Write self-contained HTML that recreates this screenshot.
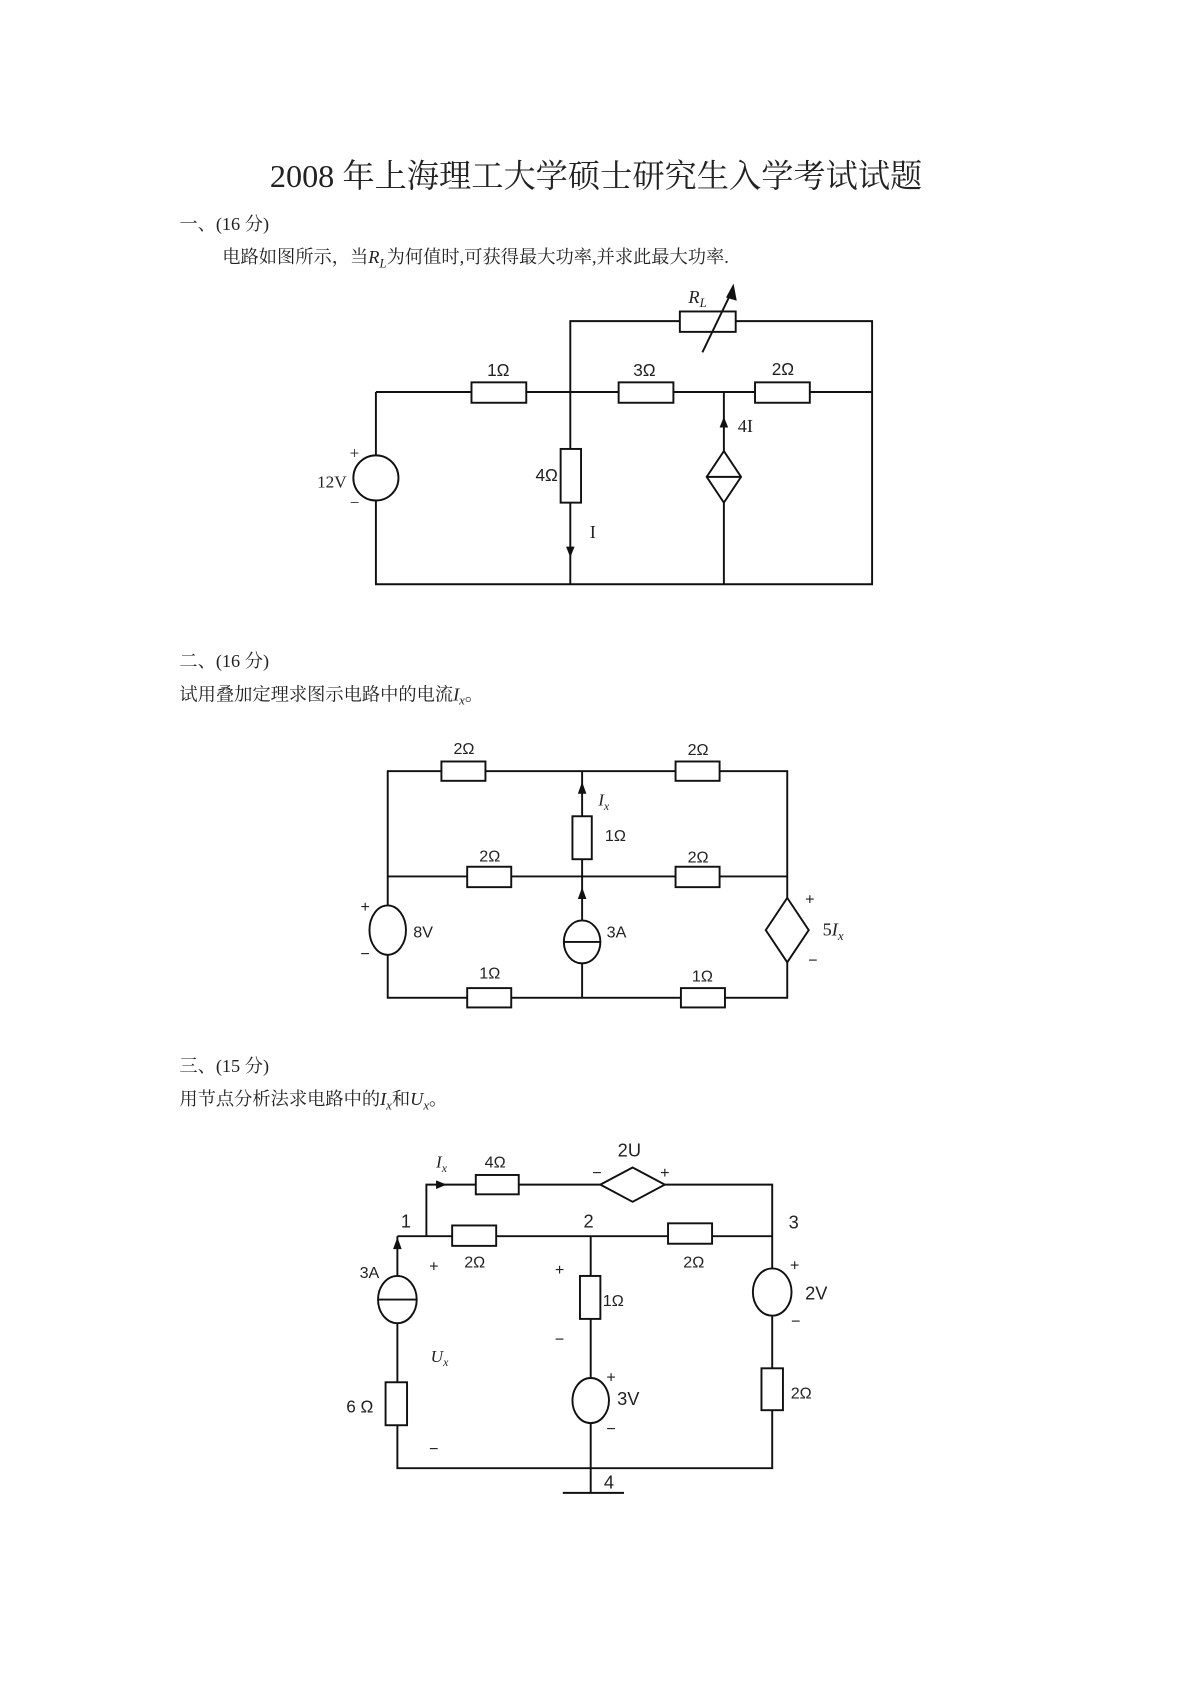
<!DOCTYPE html>
<html><head><meta charset="utf-8"><style>
html,body{margin:0;padding:0;background:#fff;}
svg{display:block;}
.t{font-family:"Liberation Serif","Noto Serif CJK SC",serif;fill:#222;}
.s{font-family:"Liberation Sans","Noto Sans CJK SC",sans-serif;fill:#222;}
.i{font-family:"Liberation Serif",serif;font-style:italic;fill:#222;}
</style></head><body>
<svg width="1190" height="1683" viewBox="0 0 1108 1567" preserveAspectRatio="none" xmlns="http://www.w3.org/2000/svg">
<g stroke="#111" stroke-width="1.8" fill="none">
<!-- Circuit 1 -->
<polyline points="350,365 350,544 812,544 812,299 531,299 531,544"/>
<line x1="350" y1="365" x2="812" y2="365"/>
<line x1="674" y1="365" x2="674" y2="544"/>
<rect x="439" y="356" width="51" height="19" fill="#fff"/>
<rect x="576" y="356" width="51" height="19" fill="#fff"/>
<rect x="703" y="356" width="51" height="19" fill="#fff"/>
<rect x="633" y="290" width="52" height="19" fill="#fff"/>
<line x1="654" y1="328" x2="683" y2="268"/>
<rect x="522" y="418" width="19" height="50" fill="#fff"/>
<ellipse cx="350" cy="445" rx="21" ry="21" fill="#fff"/>
<polygon points="674,420 690,444 674,468 658,444" fill="#fff"/>
<line x1="658" y1="444" x2="690" y2="444"/>
<!-- Circuit 2 -->
<rect x="361" y="718" width="372" height="211"/>
<line x1="361" y1="816" x2="733" y2="816"/>
<line x1="542" y1="718" x2="542" y2="929"/>
<rect x="411" y="709" width="41" height="18" fill="#fff"/>
<rect x="629" y="709" width="41" height="18" fill="#fff"/>
<rect x="533" y="760" width="18" height="40" fill="#fff"/>
<rect x="435" y="807" width="41" height="19" fill="#fff"/>
<rect x="629" y="807" width="41" height="19" fill="#fff"/>
<rect x="435" y="920" width="41" height="18" fill="#fff"/>
<rect x="634" y="920" width="41" height="18" fill="#fff"/>
<ellipse cx="361" cy="866" rx="17" ry="23" fill="#fff"/>
<ellipse cx="542" cy="877" rx="17" ry="20" fill="#fff"/>
<line x1="525" y1="877" x2="559" y2="877"/>
<polygon points="733,836 753,866 733,896 713,866" fill="#fff"/>
<!-- Circuit 3 -->
<polyline points="370,1151 719,1151"/>
<polyline points="397,1151 397,1103 719,1103 719,1367 370,1367 370,1151"/>
<line x1="550" y1="1151" x2="550" y2="1390"/>
<line x1="524" y1="1390" x2="581" y2="1390"/>
<rect x="443" y="1094" width="40" height="18" fill="#fff"/>
<polygon points="559,1103 589,1087 619,1103 589,1119" fill="#fff"/>
<rect x="421" y="1141" width="41" height="19" fill="#fff"/>
<rect x="622" y="1139" width="41" height="19" fill="#fff"/>
<rect x="540" y="1188" width="19" height="40" fill="#fff"/>
<ellipse cx="550" cy="1304" rx="17" ry="21" fill="#fff"/>
<ellipse cx="370" cy="1210" rx="18" ry="22" fill="#fff"/>
<line x1="352" y1="1210" x2="388" y2="1210"/>
<rect x="359" y="1287" width="20" height="40" fill="#fff"/>
<ellipse cx="719" cy="1203" rx="18" ry="22" fill="#fff"/>
<rect x="709" y="1274" width="20" height="39" fill="#fff"/>
</g>
<g fill="#111">
<polygon points="683,264 676,277 686,280"/>
<polygon points="674,388 670,398 678,398"/>
<polygon points="531,519 527,509 535,509"/>
<polygon points="542,728 538,739 546,739"/>
<polygon points="542,826 538,837 546,837"/>
<polygon points="416,1103 406,1099 406,1107"/>
<polygon points="370,1152 366,1163 374,1163"/>
</g>
<text class="t" x="555" y="174" font-size="30" text-anchor="middle">2008 年上海理工大学硕士研究生入学考试试题</text>
<text class="t" x="167" y="214" font-size="17">一、(16 分)</text>
<text class="t" x="207" y="245" font-size="17">电路如图所示，当<tspan class="i">R</tspan><tspan class="i" font-size="12" dy="4">L</tspan><tspan dy="-4">为何值时,可获得最大功率,并求此最大功率.</tspan></text>
<text class="i" x="641" y="282" font-size="17">R<tspan font-size="12" dy="4">L</tspan></text>
<g class="s" font-size="16" text-anchor="middle">
<text x="464" y="350">1Ω</text><text x="600" y="350">3Ω</text><text x="729" y="349">2Ω</text>
<text x="509" y="448">4Ω</text>
</g>
<text class="t" x="330" y="427" font-size="16" text-anchor="middle">+</text>
<text class="t" x="330" y="473" font-size="16" text-anchor="middle">−</text>
<text class="t" x="309" y="454" font-size="16" text-anchor="middle">12V</text>
<text class="t" x="694" y="402" font-size="17" text-anchor="middle">4I</text>
<text class="t" x="552" y="501" font-size="17" text-anchor="middle">I</text>

<text class="t" x="167" y="621" font-size="17">二、(16 分)</text>
<text class="t" x="167" y="652" font-size="17">试用叠加定理求图示电路中的电流<tspan class="i">I</tspan><tspan class="i" font-size="12" dy="4">x</tspan><tspan dy="-4">。</tspan></text>
<g class="s" font-size="15" text-anchor="middle">
<text x="432" y="702">2Ω</text><text x="650" y="703">2Ω</text>
<text x="573" y="783">1Ω</text>
<text x="456" y="802">2Ω</text><text x="650" y="803">2Ω</text>
<text x="456" y="911">1Ω</text><text x="654" y="914">1Ω</text>
<text x="394" y="873">8V</text><text x="574" y="873">3A</text>
<text x="340" y="849">+</text><text x="340" y="893">−</text>
<text x="754" y="842">+</text><text x="757" y="899">−</text>
</g>
<text class="i" x="557" y="750" font-size="16">I<tspan font-size="11" dy="4">x</tspan></text>
<text class="t" x="766" y="871" font-size="17">5<tspan class="i">I</tspan><tspan class="i" font-size="12" dy="4">x</tspan></text>

<text class="t" x="167" y="998" font-size="17">三、(15  分)</text>
<text class="t" x="167" y="1029" font-size="17">用节点分析法求电路中的<tspan class="i">I</tspan><tspan class="i" font-size="12" dy="4">x</tspan><tspan dy="-4">和</tspan><tspan class="i">U</tspan><tspan class="i" font-size="12" dy="4">x</tspan><tspan dy="-4">。</tspan></text>
<g class="s" font-size="15" text-anchor="middle">
<text x="461" y="1087">4Ω</text><text x="586" y="1077" font-size="17">2U</text>
<text x="556" y="1097">−</text><text x="619" y="1097">+</text>
<text x="378" y="1143" font-size="17">1</text><text x="548" y="1143" font-size="17">2</text><text x="739" y="1144" font-size="17">3</text>
<text x="344" y="1190">3A</text><text x="404" y="1184">+</text><text x="442" y="1180">2Ω</text>
<text x="521" y="1187">+</text><text x="646" y="1180">2Ω</text>
<text x="740" y="1183">+</text><text x="760" y="1210" font-size="17">2V</text><text x="741" y="1235">−</text>
<text x="571" y="1216">1Ω</text><text x="521" y="1252">−</text>
<text x="569" y="1287">+</text><text x="585" y="1308" font-size="17">3V</text><text x="569" y="1335">−</text>
<text x="335" y="1315" font-size="16">6 Ω</text><text x="746" y="1302">2Ω</text>
<text x="404" y="1354">−</text><text x="567" y="1386" font-size="17">4</text>
</g>
<text class="i" x="406" y="1087" font-size="16">I<tspan font-size="11" dy="4">x</tspan></text>
<text class="i" x="401" y="1268" font-size="16">U<tspan font-size="11" dy="4">x</tspan></text>
</svg>
</body></html>
